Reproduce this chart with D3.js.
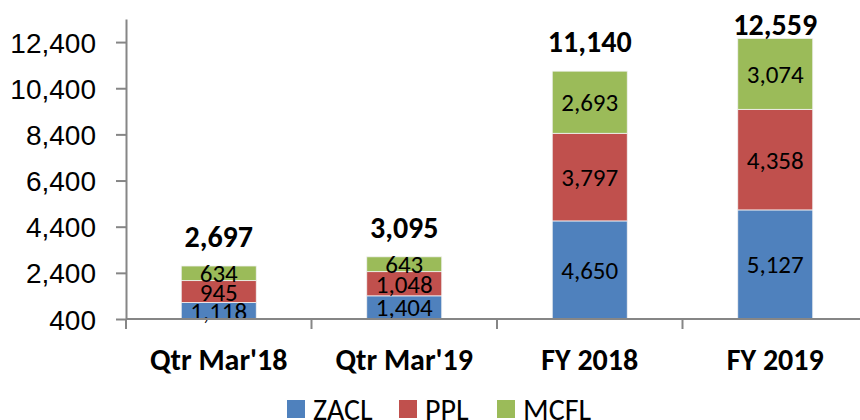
<!DOCTYPE html>
<html>
<head>
<meta charset="utf-8">
<script src="https://cdn.jsdelivr.net/npm/d3@7"></script>
<style>
  body { margin: 0; background: #fff; }
  svg { display: block; font-family: Calibri, Carlito, Lato, sans-serif; }
</style>
</head>
<body>
<svg></svg>
<script>
// data
const categories = ["Qtr Mar'18", "Qtr Mar'19", "FY 2018", "FY 2019"];
const seriesNames = ["ZACL", "PPL", "MCFL"];
const zacl = [1118, 1404, 4650, 5127];
const ppl = [945, 1048, 3797, 4358];
const mcfl = [634, 643, 2693, 3074];
const totals = [2697, 3095, 11140, 12559];
const yTicks = [400, 2400, 4400, 6400, 8400, 10400, 12400];
const colors = ["#4F81BD", "#C0504D", "#9BBB59"];

const width = 860, height = 420;
const svg = d3.select("svg").attr("width", width).attr("height", height);

const axisColor = "#868686";
const fmt = d3.format(",");

const x = d3.scaleBand().domain(categories).range([126, 868]);
const y = d3.scaleLinear().domain([400, 13400]).range([319, 19]);

const barW = 75;

// y axis
const yAxis = svg.append("g")
    .attr("transform", "translate(126,0)")
    .call(d3.axisLeft(y).tickValues(yTicks).tickSize(10).tickSizeOuter(0).tickPadding(20).tickFormat(fmt));
yAxis.select(".domain").attr("stroke", axisColor).attr("stroke-width", 2);
yAxis.selectAll(".tick line").attr("stroke", axisColor).attr("stroke-width", 2);
yAxis.selectAll(".tick text")
    .attr("fill", "#000")
    .style("font-size", "28px")
    .attr("dy", "0.36em");

// stacked data
const series = d3.stack().keys([0, 1, 2])(categories.map((c, i) => [zacl[i], ppl[i], mcfl[i]]));

const layers = svg.append("g").selectAll("g")
    .data(series)
    .enter().append("g")
    .attr("fill", (d, i) => colors[i]);

layers.selectAll("rect")
    .data(d => d)
    .enter().append("rect")
    .attr("x", (d, i) => x(categories[i]) + x.bandwidth() / 2 - barW / 2)
    .attr("width", barW)
    .attr("y", d => y(d[1]))
    .attr("height", d => y(Math.max(d[0], 400)) - y(d[1]))
    .attr("stroke", "#f2f2f2")
    .attr("stroke-width", 0.8);

// segment labels
layers.selectAll("text")
    .data(d => d)
    .enter().append("text")
    .attr("x", (d, i) => x(categories[i]) + x.bandwidth() / 2)
    .attr("y", d => (y(Math.max(d[0], 400)) + y(d[1])) / 2)
    .attr("dy", "0.36em")
    .attr("text-anchor", "middle")
    .attr("fill", "#000")
    .style("font-size", "25px")
    .text(d => fmt(d[1] - d[0]));

// x axis
svg.append("line")
    .attr("x1", 126).attr("x2", width)
    .attr("y1", 319).attr("y2", 319)
    .attr("stroke", axisColor).attr("stroke-width", 2);

const bounds = categories.map(c => x(c)).concat([x.range()[1]]);
svg.append("g").selectAll("line")
    .data(bounds)
    .enter().append("line")
    .attr("x1", d => d).attr("x2", d => d)
    .attr("y1", 319).attr("y2", 329)
    .attr("stroke", axisColor).attr("stroke-width", 2);

svg.append("g").selectAll("text")
    .data(categories)
    .enter().append("text")
    .attr("x", d => x(d) + x.bandwidth() / 2)
    .attr("y", 370)
    .attr("text-anchor", "middle")
    .attr("font-weight", "bold")
    .style("font-size", "30px")
    .text(d => d);

// totals
svg.append("g").selectAll("text")
    .data(totals)
    .enter().append("text")
    .attr("x", (d, i) => x(categories[i]) + x.bandwidth() / 2)
    .attr("y", d => Math.max(y(d) - 19, 35))
    .attr("text-anchor", "middle")
    .attr("font-weight", "bold")
    .style("font-size", "30px")
    .text(d => fmt(d));

// legend
const legendX = [287, 399, 497];
const legend = svg.append("g").selectAll("g")
    .data(seriesNames)
    .enter().append("g")
    .attr("transform", (d, i) => `translate(${legendX[i]},400)`);
legend.append("rect")
    .attr("width", 18).attr("height", 18)
    .attr("fill", (d, i) => colors[i]);
legend.append("text")
    .attr("x", 26).attr("y", 20)
    .style("font-size", "30px")
    .text(d => d);
</script>
</body>
</html>
